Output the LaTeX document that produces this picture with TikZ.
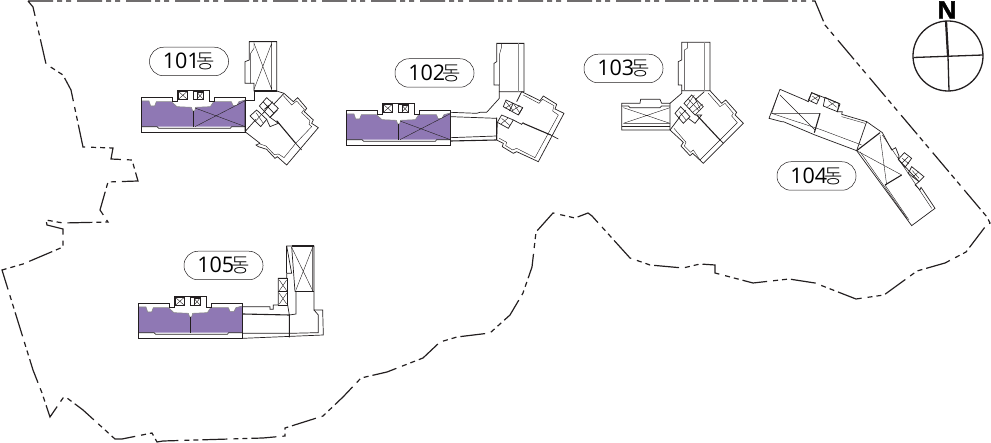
\documentclass[tikz,border=0pt]{standalone}
\usepackage{fontspec}
\setmainfont{Open Sans}
\newfontfamily\krfont[UprightFont=* Light]{Noto Sans CJK KR}
\newfontfamily\northfont[UprightFont=* Bold,FakeBold=1.5]{Open Sans}
\definecolor{ink}{HTML}{231F20}
\definecolor{wingpurple}{HTML}{8F78B4}
\definecolor{soft}{HTML}{8A8A8A}
\tikzset{
  z/.style 2 args={shift={(#1,#2)},x=0.33333pt,y=-0.33333pt},
  ln/.style={draw=ink,line width=0.7pt,line join=miter},
  thin ln/.style={draw=ink,line width=0.4pt},
  grayln/.style={draw=soft,line width=0.6pt},
  heavy/.style={draw=ink,line width=1.1pt},
  boundary/.style={draw=ink,line width=1.2pt,dash pattern=on 25pt off 4pt on 5pt off 4pt on 5pt off 6pt},
  pill/.style={draw=ink,line width=0.5pt,rounded corners=14pt,minimum width=79pt,minimum height=28.5pt,inner sep=0pt,font=\fontsize{21.5}{21.5}\selectfont,fill=white}
}
\newcommand\dongname[1]{#1\kern-3pt{\krfont\fontsize{20}{20}\selectfont 동}}
\newcommand\xbox[4]{\draw[thin ln] (#1,#2) -- (#3,#4) (#1,#4) -- (#3,#2); \draw[ln] (#1,#2) rectangle (#3,#4);}
\newcommand\wing{%
  \fill[wingpurple] (0,12)--(24,12)--(29,27)--(41,27)--(46,14)--(91,14)--(108,29)--(151,31)--(155,42)--(161,42)--(164,31)--(208,29)--(218,14)--(271,14)--(276,25)--(288,25)--(294,14)--(313,9)--(313,89)--(0,89)--cycle;
  \draw[grayln] (0,12)--(24,12)--(29,27)--(41,27)--(46,14)--(91,14)--(108,29)--(151,31)--(155,42)--(161,42)--(164,31)--(208,29)--(218,14)--(271,14)--(276,25)--(288,25)--(294,14)--(313,9);
  \draw[ln] (0,0)--(93,0)--(93,12)--(108,12)--(108,-20)--(205,-20)--(205,12)--(221,12)--(221,0)--(313,0)--(313,105)--(0,105)--cycle;
  \draw[ln] (0,89)--(48,89)--(53,94)--(268,94)--(272,89)--(313,89);
  \draw[heavy] (158,42)--(158,89);
  \xbox{111}{-18}{140}{8}
  \draw[ln] (156,-18) rectangle (188,8);
  \xbox{168}{-14}{186}{6}
}
\begin{document}
\begin{tikzpicture}[x=1pt,y=-1pt]
\useasboundingbox (0,0) rectangle (991,443);
% site boundary
\draw[boundary] (28,1)--(815,1)--(825,25)--(987,217)--(990,223)--(985,227)--(966,252)--(945,263)--(917,271)--(884,295)--(856,299)--(815,283)--(789,279)--(753,283)--(715,273)--(715,265)--(700,264)--(683,268)--(650,265)--(630,258)--(592,216)--(588,213)--(575,218)--(553,213)--(536,232)--(532,267)--(523,293)--(510,315)--(490,333)--(457,337)--(440,342)--(423,358)--(387,372)--(361,378)--(343,397)--(323,416)--(285,428)--(285,436)--(263,438)--(163,441)--(157,442)--(152,433)--(122,439)--(115,439)--(83,410)--(67,398)--(63,398)--(50,417)--(42,393)--(33,370)--(2,270)--(23,264)--(63,247)--(63,229)--(47,225)--(46,220)--(63,223)--(108,222)--(100,210)--(108,182)--(138,181)--(132,160)--(111,159)--(113,148)--(83,147)--(71,90)--(63,75)--(46,64)--(33,7)--(28,1);
% wings
\begin{scope}[z={141}{97}]\wing
  \draw[thin ln] (162,33)--(313,89) (162,89)--(313,11);
\end{scope}
\begin{scope}[z={346}{110}]\wing
  \draw[thin ln] (162,33)--(313,89) (162,89)--(313,11);
\end{scope}
\begin{scope}[z={138}{303}]\wing
\end{scope}
% building 101
\begin{scope}[z={130}{30}]
  \draw[ln] (358,35)--(440,35)--(440,183)--(372,183)--(372,160)--(345,160)--(345,95)--(358,90)--cycle;
  \draw[ln] (372,183)--(372,210)--(345,210);
  \draw[heavy] (358,35)--(440,35) (372,183)--(440,183);
  \draw[thin ln] (372,35)--(372,55)--(362,70)--(362,160);
  \draw[thin ln] (372,40)--(425,178) (425,40)--(372,178) (425,35)--(425,183);
  \draw[ln] (440,183)--(462,190)--(490,215)--(503,203)--(530,235)--(523,245)--(550,270)--(545,280)--(565,293)--(470,405)--(442,380)--(435,385)--(410,358)--(385,350)--(378,345)--(390,340)--(345,305);
  \draw[thin ln] (460,197)--(485,225)--(500,213)--(523,238)--(515,248)--(540,272)--(537,283)--(545,290)--(497,340)--(462,383)--(445,372)--(433,374)--(408,348)--(390,342);
  \draw[heavy] (440,272)--(497,340);
  \draw[ln] (497,340)--(515,360);
  \draw[ln] (345,305)--(378,268) (345,210)--(345,305);
  \draw[ln] (462,190)--(432,222);
  \draw[ln] (442,240)--(420,262)--(445,280)--(420,290)--(410,268);
  \draw[ln] (410,203)--(445,235)--(420,262)--(388,228)--cycle (399,250)--(428,215) (399,215)--(432,250) (418,225)--(403,238);
  \draw[ln] (380,240)--(410,268)--(392,290)--(360,258)--cycle;
  \draw[thin ln] (378,248)--(400,280) (378,272)--(398,250);
\end{scope}
% building 102
\begin{scope}[z={340}{35}]
  \draw[ln] (470,25)--(552,25)--(552,170)--(478,170)--(478,150)--(462,150)--(462,85)--(470,80)--cycle;
  \draw[heavy] (470,25)--(552,25);
  \draw[thin ln] (485,25)--(485,35)--(478,60)--(478,150);
  \draw[grayln] (535,25)--(535,170);
  \draw[ln] (332,232)--(410,235)--(420,232)--(440,232)--(478,190)--(478,170);
  \draw[ln] (332,245)--(470,250) (332,308)--(470,303);
  \draw[heavy] (332,318)--(470,315) (470,248)--(470,315);
  \draw[ln] (545,170)--(600,197)--(610,183)--(650,208)--(645,222)--(672,235)--(595,380)--(530,350)--(520,355)--(487,335)--(490,325)--(470,315);
  \draw[thin ln] (550,180)--(597,205)--(608,193)--(642,212)--(638,228)--(655,240)--(585,368)--(530,340)--(518,345)--(497,332)--(500,322)--(478,310);
  \draw[heavy] (550,265)--(632,300);
  \draw[ln] (632,300)--(655,312) (545,170)--(530,200);
  \draw[ln] (535,240)--(548,218) (520,255)--(545,268)--(550,262) (472,262)--(470,315);
  \draw[ln] (498,195)--(548,218)--(535,240)--(490,215)--cycle (520,205)--(508,228);
  \draw[thin ln] (498,200)--(520,228) (495,220)--(518,205) (522,208)--(540,235) (515,228)--(540,212);
  \draw[ln] (485,240)--(520,255)--(505,280)--(472,262)--cycle;
  \draw[thin ln] (485,250)--(510,272) (482,268)--(503,250);
\end{scope}
% building 103
\begin{scope}[z={580}{35}]
  \draw[ln] (305,22)--(390,22)--(390,167)--(305,167)--(305,150)--(295,150)--(295,80)--(305,75)--cycle;
  \draw[thin ln] (322,22)--(322,40)--(313,45)--(313,165);
  \draw[grayln] (373,22)--(373,167);
  \draw[ln] (305,167)--(305,175)--(270,205);
  \draw[ln] (125,205)--(180,205)--(182,193)--(240,193)--(245,205)--(270,205)--(270,285)--(125,285)--cycle;
  \draw[ln] (125,213)--(145,213)--(150,218)--(240,218)--(245,213)--(270,213);
  \draw[heavy] (125,275)--(270,275);
  \draw[thin ln] (130,218)--(270,265) (130,265)--(270,218) (130,265)--(270,265);
  \draw[ln] (390,167)--(425,205)--(437,195)--(470,232)--(465,240)--(490,265)--(370,385)--(338,355)--(330,362)--(303,333)--(310,322)--(270,285);
  \draw[thin ln] (385,175)--(420,215)--(435,205)--(460,235)--(455,243)--(472,263)--(360,375)--(340,345)--(332,352)--(313,333)--(318,322)--(282,280);
  \draw[heavy] (350,240)--(420,315);
  \draw[ln] (420,315)--(430,325) (373,170)--(345,195);
  \draw[ln] (270,285)--(300,245) (345,240)--(365,240)--(345,265)--(325,250);
  \draw[ln] (335,180)--(370,215)--(345,240)--(312,205)--cycle (352,197)--(327,222);
  \draw[thin ln] (325,192)--(358,228) (343,180)--(320,213) (345,190)--(362,225) (368,207)--(338,232);
  \draw[ln] (302,215)--(330,245)--(310,265)--(285,235)--cycle;
  \draw[thin ln] (298,230)--(318,255) (298,245)--(318,225);
\end{scope}
% building 104
\begin{scope}[z={765}{80}]
  \draw[ln] (45,28)--(120,60)--(130,65)--(140,38)--(222,70)--(217,95)--(232,95)--(230,103)--(305,125)--(352,158)--(380,210)--(392,203)--(402,228)--(400,238)--(462,305)--(450,315)--(465,330)--(468,322)--(510,385)--(440,437)--(275,212)--(150,165)--(55,125)--(50,125)--(12,115)--cycle;
  \draw[thin ln] (40,40)--(20,100)--(165,148)--(290,195) (230,110)--(300,130);
  \draw[thin ln] (45,45)--(150,150) (20,100)--(165,100);
  \draw[ln] (305,125)--(275,212);
  \draw[heavy] (165,100)--(148,158) (275,212)--(345,158) (360,315)--(410,285);
  \draw[thin ln] (345,165)--(365,315) (275,212)--(410,285);
  \draw[thin ln] (285,215)--(425,415) (360,315)--(432,420) (352,165)--(470,340)--(500,385);
  \draw[ln] (140,38)--(165,50)--(155,72)--(130,60)--cycle (180,52)--(225,72)--(217,95)--(175,78)--cycle;
  \draw[thin ln] (142,48)--(160,62) (138,62)--(162,48) (190,62)--(215,82) (188,80)--(212,65);
  \draw[ln] (418,218)--(440,235)--(420,262)--(400,238)--cycle (440,260)--(477,290)--(462,305)--(430,280)--cycle;
  \draw[thin ln] (412,235)--(432,252) (412,248)--(430,230) (442,272)--(462,295) (442,292)--(462,275);
\end{scope}
% building 105
\begin{scope}[z={130}{240}]
  \draw[ln] (338,200)--(420,200)--(420,208)--(430,208)--(430,195)--(445,195)--(445,115)--(470,115)--(470,100)--(485,100)--(470,18)--(552,18)--(552,210)--(578,210)--(580,285)--(338,295);
  \draw[ln] (470,18)--(470,100);
  \draw[ln] (445,115)--(473,115)--(473,195)--(445,195) (445,155)--(473,155);
  \draw[thin ln] (448,120)--(470,152) (448,152)--(470,120) (448,160)--(470,192) (448,192)--(470,160);
  \draw[ln] (485,20)--(495,155) (548,20)--(548,155);
  \draw[heavy] (485,18)--(552,18) (495,155)--(552,155);
  \draw[thin ln] (485,22)--(548,152) (548,22)--(497,152);
  \draw[heavy] (338,222)--(478,225)--(478,292);
  \draw[ln] (473,195)--(478,225)--(498,222)--(498,155);
  \draw[ln] (338,280)--(478,280)--(565,278)--(565,225)--(552,210);
\end{scope}
% labels
\node[pill,anchor=center] (d101) at (189,61.5) {\dongname{101}};
\node[pill,anchor=center] (d102) at (434.5,73) {\dongname{102}};
\node[pill,anchor=center] (d103) at (623.5,68.5) {\dongname{103}};
\node[pill,anchor=center] (d104) at (816.5,176) {\dongname{104}};
\node[pill,anchor=center] (d105) at (223.5,265.5) {\dongname{105}};
% compass
\draw[draw=ink,line width=1.3pt] (948,56) circle (35);
\draw[draw=ink,line width=1.3pt] (913.5,57.5)--(983,55) (948,56)--(949,91);
\draw[draw=ink,line width=2.2pt] (946,21)--(948,56);
\node[inner sep=0pt,font=\fontsize{24}{24}\northfont] (north) at (947,10) {N};
\end{tikzpicture}
\end{document}
